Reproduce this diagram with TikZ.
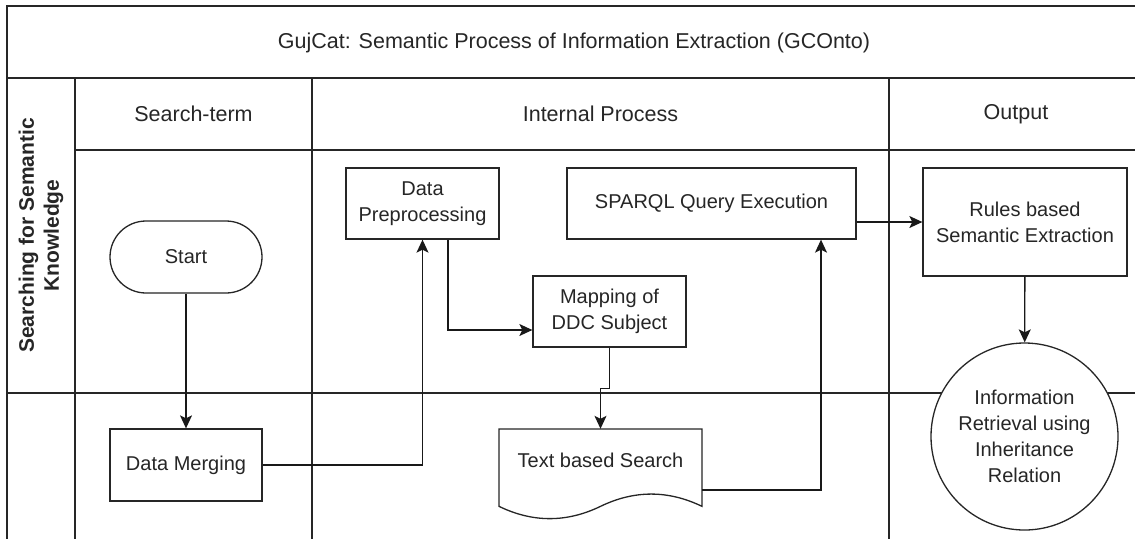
\documentclass[tikz,border=0pt]{standalone}
\usepackage{fontspec}
\setmainfont{Liberation Sans}
\usetikzlibrary{arrows.meta,calc}

\begin{document}
\begin{tikzpicture}[x=1pt,y=1pt,
  every node/.style={text=black!85},
  lane/.style={line width=1.3pt, draw=black!85},
  nodetext/.style={font=\fontsize{20}{26}\selectfont, align=center},
  box/.style={nodetext, draw=black!85, fill=white, line width=1.3pt, rectangle, inner sep=0pt},
  arr/.style={line width=1.3pt, draw=black!90, -{Stealth[length=13pt,width=12pt,inset=3pt]}},
  hdr/.style={font=\fontsize{21.5}{26}\selectfont}
]
\useasboundingbox (0,0) rectangle (1135,-539);

% swimlane frame
\draw[lane] (1135,-6) -- (7,-6) -- (7,-539);
\draw[lane] (7,-78) -- (1135,-78);
\draw[lane] (75,-150) -- (1135,-150);
\draw[lane] (7,-393) -- (1135,-393);
\draw[lane] (75,-78) -- (75,-539);
\draw[lane] (312,-78) -- (312,-539);
\draw[lane] (889,-78) -- (889,-539);

% titles and headers
\node[hdr] (title) at (574,-43) {GujCat: Semantic Process of Information Extraction (GCOnto)};
\node[hdr] (hsearch) at (193.5,-114) {Search-term};
\node[hdr] (hinternal) at (600.5,-114) {Internal Process};
\node[hdr] (houtput) at (1016,-114) {Output};
\node[font=\bfseries\fontsize{21}{25}\selectfont, rotate=90, align=center] (lanelabel) at (41,-235.5) {Searching for Semantic\\Knowledge};

% process nodes
\node[box, rounded corners=36pt, minimum width=152pt, minimum height=72pt] (start) at (186,-257) {Start};
\node[box, minimum width=152pt, minimum height=72pt] (merge) at (186,-465) {Data Merging};
\node[box, minimum width=153pt, minimum height=71pt] (prep) at (422.5,-203.5) {Data\\Preprocessing};
\node[box, minimum width=289pt, minimum height=71pt] (sparql) at (711.5,-203.5) {SPARQL Query Execution};
\node[box, minimum width=153pt, minimum height=71pt] (map) at (609.5,-311.5) {Mapping of\\DDC Subject};
\node[box, minimum width=204pt, minimum height=108pt] (rules) at (1025,-222) {Rules based\\Semantic Extraction};
\node[box, circle, minimum size=187pt] (info) at (1024.5,-436.5) {Information\\Retrieval using\\Inheritance\\Relation};

% document shape
\node[nodetext, minimum width=203pt, minimum height=91pt, inner sep=0pt] (tbs) at (600.5,-474.5) {};
\draw[lane, fill=white] (499,-429) -- (702,-429) -- (702,-506.35)
  .. controls (668.17,-489.98) and (634.33,-489.98) .. (600.5,-506.35)
  .. controls (566.67,-522.72) and (532.83,-522.72) .. (499,-506.35) -- cycle;
\node[nodetext] (tbstext) at (600.5,-460) {Text based Search};

% connectors
\draw[arr] (start) -- (merge);
\draw[arr] (merge.east) -| (prep.south);
\draw[arr] ([xshift=25.5pt]prep.south) |- ([yshift=-18.5pt]map.west);
\draw[arr] (map.south) -- ++(0,-41) -| (tbs.north);
\draw[arr] ([yshift=-15.5pt]tbs.east) -| ([xshift=109.5pt]sparql.south);
\draw[arr] (sparql.east |- rules.west) -- (rules.west);
\draw[arr] (rules) -- (info);
\end{tikzpicture}
\end{document}
